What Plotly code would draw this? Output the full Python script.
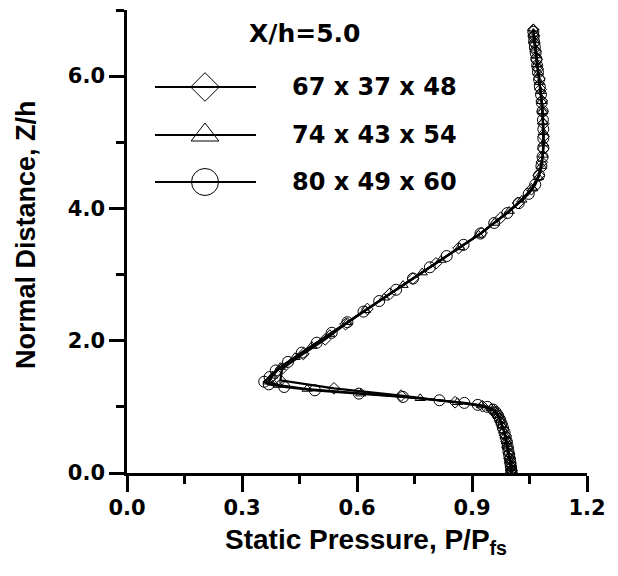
import plotly.graph_objects as go

# ---------------- data ----------------
series_names = ["67 x 37 x 48", "74 x 43 x 54", "80 x 49 x 60"]

# 67 x 37 x 48 (diamonds)
z_a = [0.00, 0.04, 0.09, 0.15, 0.22, 0.30, 0.39, 0.48, 0.57, 0.66, 0.74, 0.82, 0.89, 0.95,
       1.01, 1.07, 1.17, 1.28, 1.40, 1.58, 1.80, 2.02, 2.25, 2.48, 2.71, 2.94, 3.17, 3.40,
       3.63, 3.86, 4.08, 4.29, 4.50, 4.70, 4.90, 5.09, 5.28, 5.46, 5.63, 5.80, 5.96, 6.11,
       6.25, 6.38, 6.50, 6.61, 6.70]
p_a = [1.003, 1.003, 1.002, 1.000, 0.998, 0.996, 0.993, 0.990, 0.987, 0.982, 0.978, 0.972, 0.965, 0.956,
       0.927, 0.856, 0.715, 0.540, 0.400, 0.405, 0.460, 0.517, 0.570, 0.627, 0.686, 0.746, 0.806, 0.865,
       0.925, 0.975, 1.020, 1.055, 1.074, 1.082, 1.086, 1.087, 1.086, 1.084, 1.082, 1.079, 1.076, 1.072,
       1.069, 1.066, 1.063, 1.061, 1.060]

# 74 x 43 x 54 (triangles)
z_b = [0.00, 0.035, 0.08, 0.13, 0.19, 0.25, 0.32, 0.40, 0.48, 0.56, 0.64, 0.72, 0.80, 0.87, 0.93,
       0.98, 1.02, 1.07, 1.13, 1.20, 1.27, 1.33, 1.38, 1.47, 1.60, 1.75, 1.92, 2.10, 2.28, 2.46,
       2.65, 2.84, 3.03, 3.22, 3.41, 3.60, 3.78, 3.96, 4.13, 4.30, 4.47, 4.64, 4.81, 4.98, 5.15,
       5.31, 5.47, 5.62, 5.77, 5.91, 6.05, 6.18, 6.31, 6.43, 6.54, 6.64, 6.72]
p_b = [1.003, 1.003, 1.002, 1.001, 0.999, 0.997, 0.995, 0.993, 0.990, 0.987, 0.983, 0.979, 0.974, 0.968, 0.961,
       0.950, 0.925, 0.862, 0.765, 0.610, 0.470, 0.395, 0.368, 0.380, 0.400, 0.438, 0.482, 0.529, 0.575, 0.622,
       0.671, 0.720, 0.770, 0.819, 0.868, 0.917, 0.958, 0.997, 1.030, 1.058, 1.073, 1.081, 1.085, 1.086, 1.086,
       1.085, 1.084, 1.082, 1.079, 1.076, 1.073, 1.070, 1.067, 1.064, 1.062, 1.061, 1.060]

# 80 x 49 x 60 (circles)
z_c = [0.00, 0.03, 0.07, 0.11, 0.16, 0.21, 0.27, 0.33, 0.40, 0.47, 0.54, 0.61, 0.68, 0.75, 0.81,
       0.87, 0.92, 0.96, 1.00, 1.03, 1.06, 1.10, 1.15, 1.20, 1.25, 1.30, 1.34, 1.38, 1.45, 1.55,
       1.68, 1.82, 1.97, 2.12, 2.28, 2.44, 2.60, 2.77, 2.94, 3.11, 3.28, 3.45, 3.62, 3.78, 3.93,
       4.08, 4.22, 4.36, 4.50, 4.64, 4.78, 4.92, 5.06, 5.20, 5.34, 5.47, 5.60, 5.72, 5.84, 5.95,
       6.06, 6.16, 6.26, 6.35, 6.44, 6.52, 6.60, 6.67]
p_c = [1.003, 1.003, 1.002, 1.001, 1.000, 0.999, 0.997, 0.995, 0.993, 0.991, 0.988, 0.985, 0.981, 0.977, 0.973,
       0.968, 0.962, 0.955, 0.940, 0.915, 0.880, 0.815, 0.720, 0.605, 0.490, 0.410, 0.370, 0.358, 0.372, 0.388,
       0.420, 0.456, 0.495, 0.534, 0.575, 0.617, 0.658, 0.702, 0.746, 0.790, 0.834, 0.878, 0.922, 0.958, 0.992,
       1.022, 1.048, 1.065, 1.075, 1.081, 1.084, 1.086, 1.086, 1.086, 1.085, 1.084, 1.082, 1.080, 1.077, 1.075,
       1.072, 1.070, 1.068, 1.066, 1.064, 1.062, 1.061, 1.060]

x_ticks = [0.0, 0.3, 0.6, 0.9, 1.2]
x_ticklabels = ["0.0", "0.3", "0.6", "0.9", "1.2"]
y_ticks = [0.0, 2.0, 4.0, 6.0]
y_ticklabels = ["0.0", "2.0", "4.0", "6.0"]

# ---------------- styling ----------------
symbols = ["diamond-open", "triangle-up-open", "circle-open"]
data_sizes = [9, 9, 11]
legend_sizes = [22, 24, 27]
W, H = 618, 576
ML, MR, MT, MB = 127, 31, 10, 103
PW, PH = W - ML - MR, H - MT - MB

def fx(px):
    return (px - ML) / PW

def fy(py):
    return (H - MB - py) / PH

fig = go.Figure()
for name, z, p, sym, sz in zip(series_names, [z_a, z_b, z_c], [p_a, p_b, p_c], symbols, data_sizes):
    fig.add_trace(go.Scatter(
        x=p, y=z, mode="lines+markers", name=name, showlegend=False,
        line=dict(color="black", width=2.2),
        marker=dict(symbol=sym, size=sz, color="black", line=dict(width=1, color="black")),
    ))

# custom legend (layout elements)
leg_rows = [87, 135, 182]
for name, sym, sz, row in zip(series_names, symbols, legend_sizes, leg_rows):
    fig.add_shape(type="line", xref="paper", yref="paper",
                  x0=fx(155), x1=fx(256), y0=fy(row), y1=fy(row),
                  line=dict(color="black", width=2))
    fig.add_trace(go.Scatter(
        x=[fx(205)], y=[fy(row)], xaxis="x2", yaxis="y2", mode="markers", showlegend=False,
        marker=dict(symbol=sym, size=sz, color="black", line=dict(width=1, color="black")),
        hoverinfo="skip",
    ))
    fig.add_annotation(x=fx(290), y=fy(row), xref="paper", yref="paper", text=name,
                       showarrow=False, xanchor="left", yanchor="middle",
                       font=dict(family="DejaVu Sans", size=24, color="black", weight="bold"))

fig.add_annotation(x=fx(304), y=fy(34), xref="paper", yref="paper", text="X/h=5.0",
                   showarrow=False, xanchor="center", yanchor="middle",
                   font=dict(family="DejaVu Sans", size=25, color="black", weight="bold"))

# axis titles
fig.add_annotation(x=fx(366), y=fy(522), xref="paper", yref="paper",
                   text="Static Pressure, P/P<sub>fs</sub>", showarrow=False,
                   xanchor="center", yanchor="top",
                   font=dict(family="Liberation Sans", size=28, color="black", weight="bold"))
fig.add_annotation(x=fx(26), y=fy(235), xref="paper", yref="paper",
                   text="Normal Distance, Z/h", showarrow=False, textangle=-90,
                   xanchor="center", yanchor="middle",
                   font=dict(family="Liberation Sans", size=27, color="black", weight="bold"))

tickfont = dict(family="DejaVu Sans", size=21, color="black", weight="bold")
fig.update_layout(
    width=W, height=H,
    margin=dict(l=ML, r=MR, t=MT, b=MB, pad=0),
    paper_bgcolor="white", plot_bgcolor="white",
    xaxis=dict(range=[0, 1.2], tickvals=x_ticks, ticktext=x_ticklabels,
               showline=True, linecolor="black", linewidth=2.5, mirror=False,
               ticks="outside", ticklen=16, tickwidth=2.5, tickcolor="black",
               minor=dict(tickvals=[0.15, 0.45, 0.75, 1.05], ticks="outside", ticklen=8,
                          tickwidth=2.5, tickcolor="black"),
               showgrid=False, zeroline=False, tickfont=tickfont, ticklabelstandoff=-2),
    yaxis=dict(range=[0, 7], tickvals=y_ticks, ticktext=y_ticklabels,
               showline=True, linecolor="black", linewidth=2.5, mirror=False,
               ticks="outside", ticklen=15, tickwidth=2.5, tickcolor="black",
               minor=dict(tickvals=[1, 3, 5, 7], ticks="outside", ticklen=8,
                          tickwidth=2.5, tickcolor="black"),
               showgrid=False, zeroline=False, tickfont=tickfont, ticklabelstandoff=0),
    xaxis2=dict(range=[0, 1], overlaying="x", visible=False, fixedrange=True),
    yaxis2=dict(range=[0, 1], overlaying="y", visible=False, fixedrange=True),
    showlegend=False,
)

fig.write_html("out.html")
